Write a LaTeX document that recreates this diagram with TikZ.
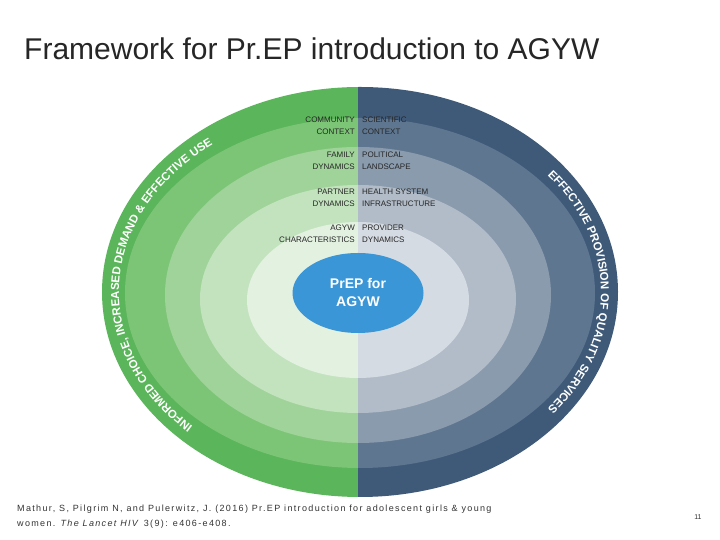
\documentclass[tikz,border=0pt]{standalone}
\usepackage{fontspec}
\setmainfont{Liberation Sans}
\usetikzlibrary{decorations.text,shapes.geometric}
\definecolor{g1}{HTML}{5BB55A}\definecolor{g2}{HTML}{7DC576}\definecolor{g3}{HTML}{A0D39A}
\definecolor{g4}{HTML}{C3E3BE}\definecolor{g5}{HTML}{E3F1E0}
\definecolor{b1}{HTML}{3F5A78}\definecolor{b2}{HTML}{5F7690}\definecolor{b3}{HTML}{8A9BAE}
\definecolor{b4}{HTML}{B1BCC8}\definecolor{b5}{HTML}{D5DBE2}
\definecolor{core}{HTML}{3A96D6}
\begin{document}
\begin{tikzpicture}[x=1pt,y=1pt,
  lab/.style={font=\fontsize{8}{12}\selectfont, text=black!85, inner sep=0pt, align=#1},
  lab/.default=left]
\useasboundingbox (0,0) rectangle (720,540);
\fill[white] (0,0) rectangle (720,540);
\begin{scope}
\clip (0,0) rectangle (358,540);
\fill[g1] (360,248) ellipse[x radius=258,y radius=205];
\fill[g2] (360,247) ellipse[x radius=235,y radius=175];
\fill[g3] (358,245) ellipse[x radius=193,y radius=148];
\fill[g4] (358,241) ellipse[x radius=158,y radius=114];
\fill[g5] (358,240) ellipse[x radius=111,y radius=78];
\end{scope}
\begin{scope}
\clip (358,0) rectangle (720,540);
\fill[b1] (360,248) ellipse[x radius=258,y radius=205];
\fill[b2] (360,247) ellipse[x radius=235,y radius=175];
\fill[b3] (358,245) ellipse[x radius=193,y radius=148];
\fill[b4] (358,241) ellipse[x radius=158,y radius=114];
\fill[b5] (358,240) ellipse[x radius=111,y radius=78];
\end{scope}
\node[ellipse, fill=core, minimum width=131, minimum height=80, inner sep=0pt,
  text=white, align=center, font=\fontsize{14}{18}\selectfont\bfseries] (core) at (358,247) {PrEP for\\AGYW};
% curved labels
\path[decorate, decoration={text along path, text align=center,
  text={|\fontsize{11.5}{11.5}\selectfont\bfseries\color{white}|INFORMED CHOICE, INCREASED DEMAND {\&} EFFECTIVE USE}}]
  (360,248) ++(240:241 and 186) arc[start angle=240,end angle=114,x radius=241,y radius=186];
\path[decorate, decoration={text along path, text align=center,
  text={|\fontsize{11.5}{11.5}\selectfont\bfseries\color{white}|EFFECTIVE PROVISION OF QUALITY SERVICES}}]
  (360,248) ++(54:241 and 186) arc[start angle=54,end angle=-54,x radius=241,y radius=186];
% ring labels
\node[lab=right, anchor=north east] (l1) at (355,423) {COMMUNITY\\CONTEXT};
\node[lab=right, anchor=north east] (l2) at (355,388) {FAMILY\\DYNAMICS};
\node[lab=right, anchor=north east] (l3) at (355,351) {PARTNER\\DYNAMICS};
\node[lab=right, anchor=north east] (l4) at (355,315) {AGYW\\CHARACTERISTICS};
\node[lab=left, anchor=north west] (r1) at (362,423) {SCIENTIFIC\\CONTEXT};
\node[lab=left, anchor=north west] (r2) at (362,388) {POLITICAL\\LANDSCAPE};
\node[lab=left, anchor=north west] (r3) at (362,351) {HEALTH SYSTEM\\INFRASTRUCTURE};
\node[lab=left, anchor=north west] (r4) at (362,315) {PROVIDER\\DYNAMICS};
% title and footer
\node[anchor=base west, inner sep=0pt, font=\fontsize{30}{34}\selectfont, text=black!85] (title) at (24,480) {Framework for Pr.EP introduction to AGYW};
\node[anchor=north west, inner sep=0pt, align=left, font=\fontsize{9}{14.5}\selectfont\addfontfeature{LetterSpace=15}, text=black!80] (cite) at (17,35)
 {Mathur, S, Pilgrim N, and Pulerwitz, J. (2016) Pr.EP introduction for adolescent girls \& young\\women. \textit{The Lancet HIV} 3(9): e406-e408.};
\node[anchor=center, inner sep=0pt, font=\fontsize{7}{8}\selectfont, text=black!80] (pg) at (698,23) {11};
\end{tikzpicture}
\end{document}
